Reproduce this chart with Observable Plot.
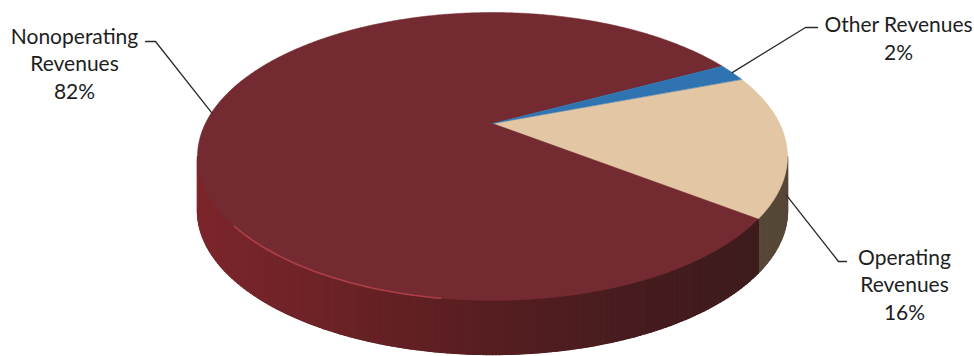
<!DOCTYPE html>
<html>
<head>
<meta charset="utf-8">
<script src="https://cdn.jsdelivr.net/npm/d3@7"></script>
<script src="https://cdn.jsdelivr.net/npm/@observablehq/plot@0.6"></script>
<style>
  html, body { margin: 0; padding: 0; background: #ffffff; }
  #chart svg { display: block; }
</style>
</head>
<body>
<div id="chart"></div>
<script>
// ---- data ----
const categories = ["Operating Revenues", "Nonoperating Revenues", "Other Revenues"];
const shares = [16, 82, 2];
const labelNames = [["Operating", "Revenues"], ["Nonoperating", "Revenues"], ["Other Revenues"]];

// ---- styles ----
const topColors = ["#e3c6a3", "#732a30", "#2f74b0"];
const sideColors = [["#665542", "#564737"], null, ["#24557f", "#1d4466"]];
const maroonSide = ["#7c262c", "#6a2226", "#561e21", "#461c1e", "#3c1c1c"];

// ---- layout ----
const W = 974, H = 356;
const layout = {cx: 492, cy: 156, rx: 295, ry: 144, depth: 54, tilt: -0.229, start: 69.5};
const labelLayout = [
  {x: 904, y: 283, elbow: [838, 261], end: [846, 261], anchorDepth: 0.95},
  {x: 74, y: 62, elbow: [155, 41], end: [145, 41], anchorDepth: 0},
  {x: 898, y: 37, elbow: [805, 27], end: [817, 27], anchorDepth: 0}
];

const deg = Math.PI / 180;
function project(theta, z = 0) {
  const v = layout.tilt;
  const sx = Math.sin(theta), sy = -Math.cos(theta);
  const k = 1 + v * sy;
  return [
    layout.cx + layout.rx * sx * Math.sqrt(1 - v * v) / k,
    layout.cy + layout.ry * (sy + v) / k + z * layout.depth
  ];
}
const apex = [layout.cx, layout.cy + layout.ry * layout.tilt];

const rows = categories.map((c, i) => ({category: c, share: shares[i], i}));
const arcs = d3.pie().sort(null).value(d => d.share)
  .startAngle(layout.start * deg).endAngle(layout.start * deg + 2 * Math.PI)(rows);

// top faces
const topPts = [];
arcs.forEach((a, j) => {
  const n = Math.max(4, Math.ceil((a.endAngle - a.startAngle) / deg * 2));
  topPts.push({z: j, x: apex[0], y: apex[1], fill: topColors[a.data.i]});
  for (let s = 0; s <= n; s++) {
    const t = a.startAngle + (a.endAngle - a.startAngle) * s / n;
    const [x, y] = project(t);
    topPts.push({z: j, x, y, fill: topColors[a.data.i]});
  }
});

// visible outer wall (front half): a base polygon per wedge plus thin shaded strips
const thR = Math.PI - Math.acos(-layout.tilt);  // rightmost silhouette angle
const thL = 2 * Math.PI - thR;
const maroonScale = d3.scaleLinear().domain(d3.range(maroonSide.length).map(k => k / (maroonSide.length - 1))).range(maroonSide).interpolate(d3.interpolateRgb);
const wallBase = [], wallPts = [];
let sid = 0, bid = 0;
arcs.forEach(a => {
  for (const off of [0, -2 * Math.PI]) {
    const lo = Math.max(a.startAngle + off, thR), hi = Math.min(a.endAngle + off, thL);
    if (hi <= lo) continue;
    const n = Math.ceil((hi - lo) / deg);
    const colorAt = t => {
      const [xm] = project(t);
      const f = 1 - (xm - (layout.cx - layout.rx)) / (2 * layout.rx); // 0 right .. 1 left
      return a.data.i === 1 ? maroonScale(1 - f)
        : d3.interpolateRgb(sideColors[a.data.i][1], sideColors[a.data.i][0])(f);
    };
    const baseCol = colorAt((lo + hi) / 2);
    const ring = [];
    for (let s = 0; s <= n; s++) ring.push(project(lo + (hi - lo) * s / n));
    for (let s = n; s >= 0; s--) ring.push(project(lo + (hi - lo) * s / n, 1));
    ring.forEach(([x, y]) => wallBase.push({z: bid, x, y, fill: baseCol}));
    bid++;
    for (let s = 0; s < n; s++) {
      const t0 = lo + (hi - lo) * s / n, t1 = lo + (hi - lo) * (s + 1) / n;
      const col = colorAt((t0 + t1) / 2);
      const p = [project(t0), project(t1), project(t1, 1), project(t0, 1)];
      p.forEach(([x, y]) => wallPts.push({z: sid, x, y, fill: col}));
      sid++;
    }
  }
});

// rim highlight on the front-left edge
const hiPts = d3.range(188, 231, 1).map(d => {
  const [x, y] = project(d * deg);
  return {x, y};
});

// labels and leaders
const labels = arcs.map(a => {
  const i = a.data.i, L = labelLayout[i];
  return {x: L.x, y: L.y, text: [...labelNames[i], `${a.data.share}%`].join("\n")};
});
const leaderPts = [];
arcs.forEach(a => {
  const i = a.data.i, L = labelLayout[i];
  const [ax, ay] = project((a.startAngle + a.endAngle) / 2, L.anchorDepth);
  [[ax, ay], L.elbow, L.end].forEach(([x, y]) => leaderPts.push({z: i, x, y}));
});

const chart = Plot.plot({
  width: W, height: H,
  margin: 0,
  x: {domain: [0, W], range: [0, W], axis: null},
  y: {domain: [0, H], range: [0, H], axis: null},
  color: {type: "identity"},
  marks: [
    Plot.line(wallBase, {x: "x", y: "y", z: "z", fill: "fill", stroke: "fill", strokeWidth: 0.6, curve: "linear-closed"}),
    Plot.line(wallPts, {x: "x", y: "y", z: "z", fill: "fill", stroke: "fill", strokeWidth: 1.4, curve: "linear-closed"}),
    Plot.line(topPts, {x: "x", y: "y", z: "z", fill: "fill", stroke: "fill", strokeWidth: 0.5, curve: "linear-closed"}),
    Plot.line(hiPts, {x: "x", y: "y", stroke: "#b8434c", strokeWidth: 1.6, strokeOpacity: 0.85, curve: "basis"}),
    Plot.line(leaderPts, {x: "x", y: "y", z: "z", stroke: "#2a2a2a", strokeWidth: 1.3}),
    Plot.text(labels, {x: "x", y: "y", text: "text", fontSize: 21, lineHeight: 1.33, fill: "#1e1e1e",
      fontFamily: "Lato, 'Open Sans', sans-serif", textAnchor: "middle"})
  ]
});
document.getElementById("chart").append(chart);
</script>
</body>
</html>
